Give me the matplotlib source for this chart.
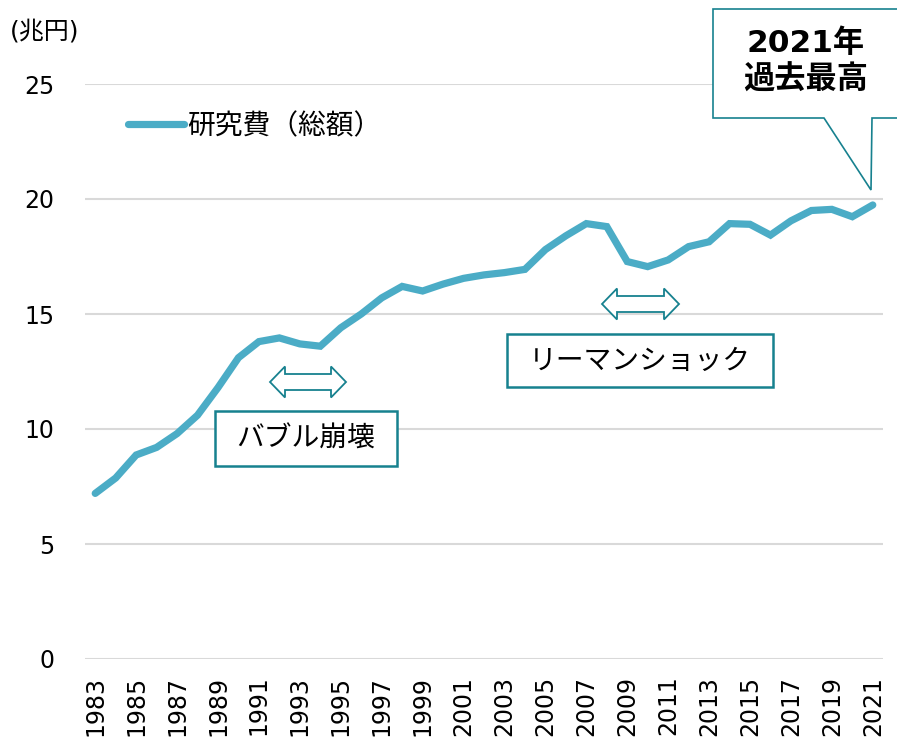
import matplotlib
matplotlib.use('Agg')
import matplotlib.pyplot as plt
from matplotlib.patches import Polygon, Rectangle

plt.rcParams['font.family'] = ['DejaVu Sans', 'Noto Sans CJK JP']

# R&D spending (trillion yen)
years = list(range(1983, 2022))
spending = [7.2, 7.87, 8.87, 9.2, 9.8, 10.6, 11.8, 13.1, 13.8, 13.96,
            13.7, 13.6, 14.4, 15.0, 15.7, 16.2, 16.0, 16.3, 16.55, 16.7,
            16.8, 16.94, 17.8, 18.4, 18.93, 18.8, 17.28, 17.06, 17.35, 17.93,
            18.14, 18.93, 18.9, 18.43, 19.05, 19.5, 19.55, 19.23, 19.74]
xtick_years = list(range(1983, 2022, 2))
yticks = [0, 5, 10, 15, 20, 25]

W, H = 897, 744
line_color = '#4bacc6'
teal = '#17818f'

def px(x, y):
    # pixel position (from top-left) -> figure fraction
    return x / W, 1 - y / H

fig = plt.figure(figsize=(W / 100, H / 100), dpi=100)
ax = fig.add_axes([85 / W, 1 - 659 / H, (883 - 85) / W, (659 - 84) / H])

ax.plot(years, spending, color=line_color, lw=5.2, solid_capstyle='round',
        solid_joinstyle='miter', label='研究費（総額）', zorder=3)

ax.set_xlim(1982.5, 2021.5)
ax.set_ylim(0, 25)
ax.set_xticks(xtick_years)
ax.set_xticklabels([str(y) for y in xtick_years], rotation=90, fontsize=17)
ax.set_yticks(yticks)
ax.set_yticklabels([str(v) for v in yticks], fontsize=17)
ax.tick_params(axis='y', length=0, pad=22)
ax.tick_params(axis='x', length=0, pad=12)
ax.grid(axis='y', color='#d9d9d9', lw=1.5)
ax.set_axisbelow(True)
for s in ax.spines.values():
    s.set_visible(False)

fig.text(*px(10, 32), '(兆円)', fontsize=18, va='center', ha='left')

leg = ax.legend(loc='center left', bbox_to_anchor=px(128, 126),
                bbox_transform=fig.transFigure, frameon=False,
                fontsize=20, handlelength=2.0, handletextpad=0.12,
                borderpad=0, borderaxespad=0)


def hollow_arrow(x0, x1, yc):
    # double-headed hollow arrow in pixel coords
    sh, hh, hl = 8, 15.5, 15
    pts = [(x0, yc), (x0 + hl, yc - hh), (x0 + hl, yc - sh), (x1 - hl, yc - sh),
           (x1 - hl, yc - hh), (x1, yc), (x1 - hl, yc + hh), (x1 - hl, yc + sh),
           (x0 + hl, yc + sh), (x0 + hl, yc + hh)]
    fig.patches.append(Polygon([px(*p) for p in pts], closed=True, fc='white',
                               ec=teal, lw=1.3, transform=fig.transFigure,
                               zorder=5))


def label_box(x0, y0, x1, y1, text):
    fx0, fy1 = px(x0, y1)
    fx1, fy0 = px(x1, y0)
    fig.patches.append(Rectangle((fx0, fy1), fx1 - fx0, fy0 - fy1, fc='white',
                                 ec=teal, lw=1.8, transform=fig.transFigure,
                                 zorder=5))
    fig.text(*px((x0 + x1) / 2, (y0 + y1) / 2), text, fontsize=20,
             ha='center', va='center', zorder=6)


hollow_arrow(270, 346, 382)
label_box(215, 411, 397, 466, 'バブル崩壊')
hollow_arrow(602, 679, 304)
label_box(507, 334, 773, 387, 'リーマンショック')

# callout
callout = [(713, 9), (900, 9), (900, 118), (872, 118), (871, 190), (824, 118),
           (713, 118)]
fig.patches.append(Polygon([px(*p) for p in callout], closed=True, fc='white',
                           ec=teal, lw=1.2, transform=fig.transFigure,
                           zorder=5))
fig.text(*px(806, 43), '2021年', fontsize=22.5, fontweight='bold',
         ha='center', va='center', zorder=6)
fig.text(*px(806, 80), '過去最高', fontsize=22.5, fontweight='bold',
         ha='center', va='center', zorder=6)

fig.savefig('out.png', dpi=100)
